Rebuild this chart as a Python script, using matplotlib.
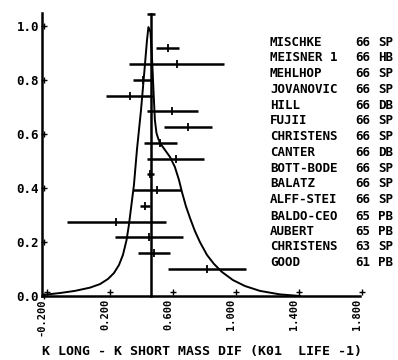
import numpy as np
import matplotlib
matplotlib.use("Agg")
import matplotlib.pyplot as plt
import matplotlib.transforms as mtransforms

names = ["MISCHKE", "MEISNER 1", "MEHLHOP", "JOVANOVIC", "HILL", "FUJII",
         "CHRISTENS", "CANTER", "BOTT-BODE", "BALATZ", "ALFF-STEI",
         "BALDO-CEO", "AUBERT", "CHRISTENS", "GOOD"]
years = ["66", "66", "66", "66", "66", "66", "66", "66", "66", "66", "66",
         "65", "65", "63", "61"]
# technique column, only the part that is visible in the picture
techs = ["SP", "HB", "SP", "SP", "DB", "SP", "SP", "DB",
         "SP", "SP", "SP", "PB", "PB", "SP", "PB"]
values = [0.598, 0.655, 0.444, 0.357, 0.627, 0.729, 0.552, 0.650, 0.489,
          0.530, 0.454, 0.272, 0.480, 0.512, 0.850]
errors = [0.071, 0.300, 0.063, 0.150, 0.161, 0.152, 0.103, 0.180, 0.021,
          0.154, 0.034, 0.316, 0.217, 0.103, 0.247]
rows = [0.917, 0.861, 0.800, 0.741, 0.684, 0.627, 0.566, 0.509, 0.451,
        0.393, 0.335, 0.273, 0.217, 0.159, 0.100]

# weighted mean line
mean_val = 0.490
mean_top = 1.044

# ideogram curve
curve_x = [-0.194, -0.086, 0.010, 0.105, 0.168, 0.219, 0.257, 0.289, 0.314,
           0.337, 0.352, 0.368, 0.384, 0.403, 0.429, 0.451, 0.467, 0.476,
           0.489, 0.498, 0.508, 0.517, 0.527, 0.537, 0.549, 0.581, 0.613,
           0.644, 0.670, 0.689, 0.714, 0.740, 0.771, 0.803, 0.848, 0.892,
           0.943, 1.013, 1.089, 1.184, 1.311, 1.438]
curve_y = [0.004, 0.011, 0.019, 0.031, 0.044, 0.063, 0.085, 0.115, 0.152,
           0.207, 0.263, 0.337, 0.411, 0.541, 0.689, 0.837, 0.948, 0.996,
           0.978, 0.893, 0.763, 0.652, 0.604, 0.585, 0.567, 0.541, 0.515,
           0.478, 0.430, 0.385, 0.333, 0.289, 0.241, 0.200, 0.152, 0.119,
           0.089, 0.059, 0.037, 0.019, 0.006, 0.000]

xticks = [-0.2, 0.2, 0.6, 1.0, 1.4, 1.8]
xtick_labels = ["-0.200", "0.200", "0.600", "1.000", "1.400", "1.800"]
yticks = [0.0, 0.2, 0.4, 0.6, 0.8, 1.0]
ytick_labels = ["0.0", "0.2", "0.4", "0.6", "0.8", "1.0"]

mono = "DejaVu Sans Mono"

fig = plt.figure(figsize=(3.98, 3.60), dpi=100)
ax = fig.add_axes([42 / 398, 64 / 360, 318 / 398, 283.5 / 360])
ax.set_xlim(-0.2, 1.82)
ax.set_ylim(0, 1.05)

for s in ["top", "right"]:
    ax.spines[s].set_visible(False)
for s in ["left", "bottom"]:
    ax.spines[s].set_linewidth(1.8)

ax.set_xticks(xticks)
ax.set_xticklabels(xtick_labels, rotation=90, family=mono, weight="bold",
                   fontsize=7.5)
ax.set_yticks(yticks)
ax.set_yticklabels(ytick_labels, family=mono, weight="bold", fontsize=9)
ax.tick_params(length=0, pad=2)

# little "+" tick marks, slightly offset like the plotter output
off_x = mtransforms.ScaledTranslation(5 / 100, 4 / 100, fig.dpi_scale_trans)
ax.plot(xticks, [0] * len(xticks), ls="none", marker="+", ms=5, mew=1,
        color="black", transform=ax.transData + off_x, clip_on=False)
off_y = mtransforms.ScaledTranslation(2 / 100, 0, fig.dpi_scale_trans)
ax.plot([-0.2] * len(yticks), yticks, ls="none", marker="+", ms=5, mew=1,
        color="black", transform=ax.transData + off_y, clip_on=False)

# ideogram
ax.plot(curve_x, curve_y, color="black", lw=1.4, clip_on=False)

# mean line with cap
ax.plot([mean_val, mean_val], [0, mean_top], color="black", lw=1.8,
        clip_on=False)
ax.plot([mean_val], [mean_top], marker="_", ms=6, mew=1.8, color="black",
        clip_on=False)

# measurements
ax.errorbar(values, rows, xerr=errors, fmt="none", ecolor="black",
            elinewidth=1.8, capsize=0)
ax.plot(values, rows, ls="none", marker="|", ms=6, mew=1.3, color="black")

# labels on the right
for i in range(len(names)):
    ty = rows[i] + 0.023
    ax.text(1.248, ty, names[i], family=mono, weight="bold", fontsize=9,
            va="center", ha="left")
    ax.text(1.787, ty, years[i], family=mono, weight="bold", fontsize=9,
            va="center", ha="left")
    ax.text(1.933, ty, techs[i], family=mono, weight="bold", fontsize=9,
            va="center", ha="left")

fig.text(42 / 398, 8 / 360, "K LONG - K SHORT MASS DIF (K01  LIFE -1)",
         family=mono, weight="bold", fontsize=9.5, ha="left", va="center")

fig.savefig("out.png", dpi=100)
